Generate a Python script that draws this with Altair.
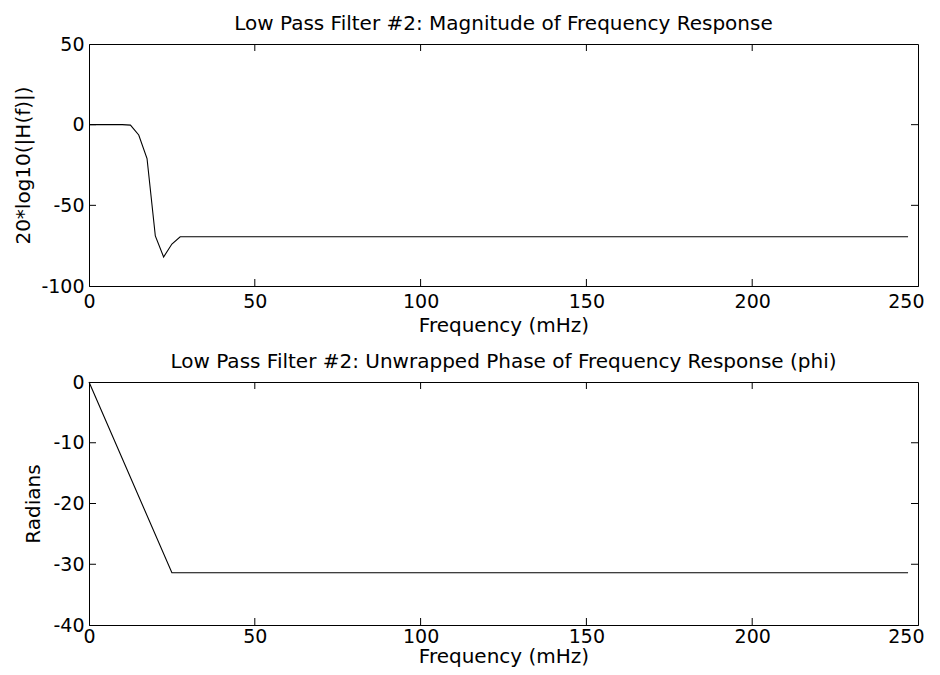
import altair as alt
import pandas as pd

FONT = "DejaVu Sans"

# Magnitude response (dB) breakpoints
mag_freq = [0, 10, 12.5, 15, 17.5, 20, 22.5, 25, 27.5, 247]
mag_db = [0, 0, -0.3, -6.4, -21, -69, -82, -74, -69.5, -69.5]

# Unwrapped phase (radians) breakpoints
ph_freq = [0, 25, 247]
ph_rad = [0, -31.4, -31.4]

x_ticks = [0, 50, 100, 150, 200, 250]
y1_ticks = [-100, -50, 0, 50]
y2_ticks = [-40, -30, -20, -10, 0]

title1 = "Low Pass Filter #2: Magnitude of Frequency Response"
title2 = "Low Pass Filter #2: Unwrapped Phase of Frequency Response (phi)"
xlab = "Frequency (mHz)"
ylab1 = "20*log10(|H(f)|)"
ylab2 = "Radians"

W = 829
H1 = 242
H2 = 243
TL = 7
HYPHEN = "replace(datum.label, '\u2212', '-')"

xscale = alt.Scale(domain=[0, 250], nice=False, zero=False)


def panel(freq, vals, yticks, ytitle, title, h, xlp, xtp, ytp):
    yscale = alt.Scale(domain=[yticks[0], yticks[-1]], nice=False, zero=False)
    xaxis = alt.Axis(values=x_ticks, title=xlab, ticks=False, labelExpr=HYPHEN,
                     labelFlush=True, labelFlushOffset=6,
                     labelPadding=xlp, titlePadding=xtp, grid=False)
    yaxis = alt.Axis(values=yticks, title=ytitle, ticks=False, labelExpr=HYPHEN,
                     labelFlush=False, labelPadding=5, titlePadding=ytp, grid=False)
    df = pd.DataFrame({"f": freq, "v": vals})
    line = alt.Chart(df).mark_line(color="black", strokeWidth=1.1).encode(
        x=alt.X("f:Q", scale=xscale, axis=xaxis),
        y=alt.Y("v:Q", scale=yscale, axis=yaxis),
    )
    xt = pd.DataFrame({"f": x_ticks[1:-1]})
    yt = pd.DataFrame({"v": yticks[1:-1]})
    xtop = alt.Chart(xt).mark_rule(color="black", strokeWidth=1).encode(
        x=alt.X("f:Q", scale=xscale, axis=xaxis), y=alt.value(0), y2=alt.value(TL))
    xbot = alt.Chart(xt).mark_rule(color="black", strokeWidth=1).encode(
        x=alt.X("f:Q", scale=xscale, axis=xaxis), y=alt.value(h), y2=alt.value(h - TL))
    yleft = alt.Chart(yt).mark_rule(color="black", strokeWidth=1).encode(
        y=alt.Y("v:Q", scale=yscale, axis=yaxis), x=alt.value(0), x2=alt.value(TL))
    yright = alt.Chart(yt).mark_rule(color="black", strokeWidth=1).encode(
        y=alt.Y("v:Q", scale=yscale, axis=yaxis), x=alt.value(W), x2=alt.value(W - TL))
    return alt.layer(line, xtop, xbot, yleft, yright).properties(
        width=W, height=h,
        title=alt.TitleParams(title, fontSize=20, font=FONT, fontWeight="normal",
                              color="black", offset=1),
    )


top = panel(mag_freq, mag_db, y1_ticks, ylab1, title1, H1, 6, 4, 7)
bot = panel(ph_freq, ph_rad, y2_ticks, ylab2, title2, H2, 2, 0, 9)

chart = alt.vconcat(top, bot, spacing=15).properties(
    padding={"left": 5, "top": 5, "right": 0, "bottom": 0},
    background="white",
).configure_view(stroke="black", strokeWidth=1).configure_axis(
    domainColor="black", domainWidth=1, labelColor="black", titleColor="black",
    labelFont=FONT, titleFont=FONT, labelFontSize=19, titleFontSize=20,
    titleFontWeight="normal",
)

chart.save("out.html", embed_options={"renderer": "svg", "actions": False})
